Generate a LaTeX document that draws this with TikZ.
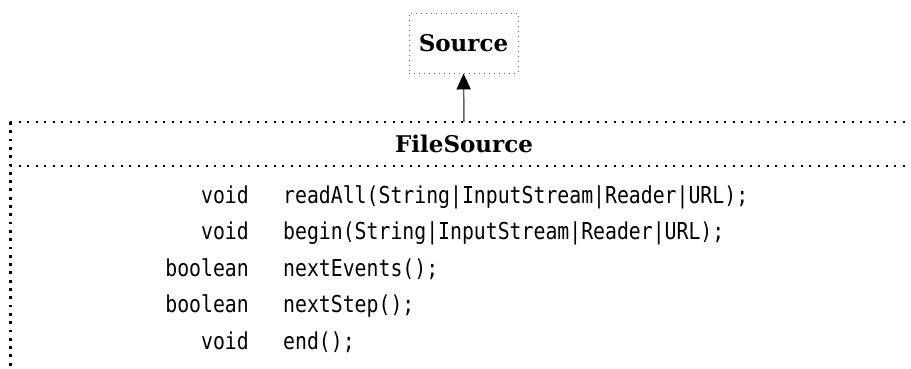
\documentclass[tikz,border=0pt]{standalone}
\usepackage{fontspec}
\usetikzlibrary{arrows.meta}
\newfontfamily\codefont[FakeStretch=0.85]{DejaVu Sans Mono}
\newfontfamily\titlefont{DejaVu Serif}
\begin{document}
\begin{tikzpicture}[x=1pt,y=-1pt,
  titletext/.style={font=\titlefont\bfseries\fontsize{23}{27}\selectfont, inner sep=0pt},
  typetext/.style={font=\codefont\fontsize{23.3}{27}\selectfont, inner sep=0pt, anchor=base east},
  methtext/.style={font=\codefont\fontsize{23.3}{27}\selectfont, inner sep=0pt, anchor=base west},
  srcbox/.style={draw=black!60, line width=0.9pt, dash pattern=on 0.9pt off 4.1pt,
    minimum width=109pt, minimum height=60pt, inner sep=0pt},
  hline/.style={draw=black, line width=2.2pt, dash pattern=on 2.2pt off 6.3pt},
  vline/.style={draw=black, line width=3pt, dash pattern=on 2.8pt off 5.5pt},
  inherit/.style={draw=black!60, line width=1.5pt, -{Triangle[length=16pt,width=14pt,color=black]}}
]
\useasboundingbox (0,0) rectangle (911,369);
\clip (0,0) rectangle (911,369);
% Source box
\node[srcbox] (src) at (463.5,43) {};
\node[titletext] (srctitle) at (463.5,43) {Source};
% FileSource box (cropped)
\coordinate (tl) at (10,122);
\coordinate (tr) at (920,122);
\coordinate (sl) at (10,166);
\coordinate (sr) at (920,166);
\coordinate (bl) at (10,380);
\draw[hline] (tl) -- (tr);
\draw[hline] (sl) -- (sr);
\draw[vline] (tl) -- (bl);
\node[titletext] (fstitle) at (464,144) {FileSource};
\coordinate (fstop) at (464,122);
\draw[inherit] (fstop) -- (src.south);
% members
\node[typetext] (t1) at (249,203) {void};
\node[methtext] (m1) at (283,203) {readAll(String|InputStream|Reader|URL);};
\node[typetext] (t2) at (249,239.5) {void};
\node[methtext] (m2) at (283,239.5) {begin(String|InputStream|Reader|URL);};
\node[typetext] (t3) at (249,276) {boolean};
\node[methtext] (m3) at (283,276) {nextEvents();};
\node[typetext] (t4) at (249,312.5) {boolean};
\node[methtext] (m4) at (283,312.5) {nextStep();};
\node[typetext] (t5) at (249,349) {void};
\node[methtext] (m5) at (283,349) {end();};
\end{tikzpicture}
\end{document}
